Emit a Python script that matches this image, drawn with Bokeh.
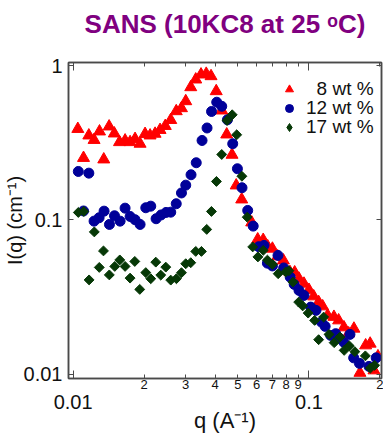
import math
from bokeh.plotting import figure
from bokeh.models import LogAxis, FixedTicker, Legend, LegendItem
from bokeh.embed import file_html
from bokeh.resources import INLINE

# ---- data ----
q8 = [0.01047, 0.01107, 0.01166, 0.01227, 0.01294, 0.01349, 0.01421, 0.01495, 0.01573, 0.01661,
      0.01744, 0.01831, 0.01923, 0.02019, 0.02120, 0.02226, 0.02337, 0.02459, 0.02594, 0.02737,
      0.02880, 0.03003, 0.03153, 0.03311, 0.03486, 0.03668, 0.03844, 0.04044, 0.04267, 0.04480,
      0.04718, 0.04915, 0.05186, 0.05718, 0.06063, 0.06397, 0.06684, 0.06998, 0.07369, 0.07790,
      0.08308, 0.08698, 0.09071, 0.09524, 0.1000, 0.1047, 0.1099, 0.1143, 0.1200, 0.1276,
      0.1336, 0.1407, 0.1473, 0.1551, 0.1645, 0.1739, 0.1817, 0.1886, 0.1961]
i8 = [0.3882, 0.2520, 0.3523, 0.3295, 0.3740, 0.2464, 0.4029, 0.3630, 0.3189, 0.3270,
      0.3189, 0.3344, 0.3114, 0.3603, 0.3523, 0.3614, 0.3825, 0.4059, 0.4438, 0.5059,
      0.5291, 0.5873, 0.7236, 0.8116, 0.8743, 0.8836, 0.8527, 0.6819, 0.5112, 0.3576,
      0.2642, 0.1672, 0.1357, 0.09634, 0.07478, 0.07423, 0.06738, 0.06511, 0.05804, 0.05467,
      0.04594, 0.04573, 0.04163, 0.03864, 0.03523, 0.03198, 0.02937, 0.02755, 0.02409, 0.02356,
      0.02236, 0.02015, 0.01842, 0.01976, 0.01023, 0.01540, 0.01580, 0.01061, 0.01308]

q12 = [0.01052, 0.01107, 0.01166, 0.01227, 0.01289, 0.01353, 0.01426, 0.01498, 0.01582, 0.01661,
       0.01744, 0.01831, 0.01923, 0.02033, 0.02134, 0.02248, 0.02360, 0.02478, 0.02594, 0.02737,
       0.02880, 0.03003, 0.03162, 0.03327, 0.03521, 0.03697, 0.03863, 0.04064, 0.04267, 0.04511,
       0.04750, 0.04973, 0.05201, 0.05499, 0.05802, 0.06122, 0.06447, 0.06664, 0.06998, 0.07390,
       0.07813, 0.08325, 0.08656, 0.09071, 0.09524, 0.1017, 0.1071, 0.1129, 0.1171, 0.1236,
       0.1298, 0.1349, 0.1407, 0.1492, 0.1547, 0.1637, 0.1796, 0.1927]
i12 = [0.2060, 0.1143, 0.2009, 0.09823, 0.1033, 0.1140, 0.09351, 0.1064, 0.09823, 0.1192,
       0.1053, 0.1003, 0.09351, 0.1199, 0.1228, 0.1018, 0.1077, 0.1118, 0.1123, 0.1273,
       0.1495, 0.1680, 0.1962, 0.2346, 0.3270, 0.3940, 0.5038, 0.5786, 0.5445, 0.4451,
       0.3114, 0.2145, 0.1616, 0.1152, 0.09120, 0.06708, 0.06839, 0.05251, 0.05037, 0.05891,
       0.04889, 0.04263, 0.03825, 0.03497, 0.03246, 0.02726, 0.02596, 0.02180, 0.02045, 0.01788,
       0.01834, 0.01710, 0.01611, 0.01815, 0.01279, 0.01178, 0.01126, 0.01279]

q17 = [0.01052, 0.01110, 0.01169, 0.01230, 0.01291, 0.01345, 0.01424, 0.01502, 0.01577, 0.01661,
       0.01744, 0.01826, 0.01917, 0.02033, 0.02134, 0.02241, 0.02353, 0.02471, 0.02594, 0.02742,
       0.02880, 0.03003, 0.03153, 0.03311, 0.03500, 0.03686, 0.03859, 0.04052, 0.04267, 0.04493,
       0.04727, 0.04939, 0.05196, 0.05472, 0.05774, 0.06074, 0.06397, 0.06664, 0.06998, 0.07404,
       0.07967, 0.08220, 0.08555, 0.09045, 0.09405, 0.09922, 0.1057, 0.1099, 0.1154, 0.1216,
       0.1279, 0.1353, 0.1410, 0.1483, 0.1565, 0.1734, 0.1821, 0.1899]
i17 = [0.1118, 0.1135, 0.04089, 0.08364, 0.04926, 0.06300, 0.04405, 0.05000, 0.05508, 0.05000,
       0.04200, 0.05386, 0.03549, 0.04560, 0.04163, 0.05330, 0.04392, 0.04948, 0.04077, 0.04163,
       0.04553, 0.05205, 0.05284, 0.06253, 0.06253, 0.08681, 0.1135, 0.1775, 0.2654, 0.4405,
       0.4797, 0.3560, 0.1918, 0.1042, 0.06688, 0.05761, 0.06348, 0.05492, 0.05151, 0.04486,
       0.04607, 0.04690, 0.03957, 0.02937, 0.02775, 0.02493, 0.02236, 0.01677, 0.02349, 0.01815,
       0.01604, 0.01743, 0.01430, 0.01529, 0.01403, 0.01317, 0.01098, 0.01144]

series_labels = ["\u20078 wt %", "12 wt %", "17 wt %"]

x_sub_ticks = [0.02, 0.03, 0.04, 0.05, 0.06, 0.07, 0.08, 0.09, 0.2]
x_sub_labels = ["2", "3", "4", "5", "6", "7", "8", "9", "2"]
x_decades = [0.01, 0.1]
x_decade_labels = ["0.01", "0.1"]
y_ticks = [0.01, 0.1, 1.0]
y_tick_labels = ["0.01", "0.1", "1"]

title_text = "SANS (10KC8 at 25 \u1d52C)"
x_title = "q (A\u207b\u00b9)"
y_title = "I(q) (cm\u207b\u00b9)"

# ---- styles ----
FONT = "Liberation Sans"
AX = "#4a4a4a"
RED = "#ff0000"
BLUE = "#000099"
GREEN = "#063806"

p = figure(width=383, height=435, x_axis_type="log", y_axis_type="log",
           x_range=(0.00956, 0.203), y_range=(0.0094, 1.046),
           x_axis_location=None, y_axis_location=None,
           toolbar_location=None, output_backend="svg",
           min_border_left=67, min_border_right=2, min_border_top=62, min_border_bottom=57)
p.grid.visible = False
p.outline_line_color = AX
p.outline_line_width = 1.5
p.title.text = ""
p.title.standoff = 0


def style_axis(ax):
    ax.axis_line_color = AX
    ax.axis_line_width = 1.5
    ax.major_tick_line_color = AX
    ax.minor_tick_line_color = AX
    ax.major_tick_out = 0
    ax.minor_tick_out = 0
    ax.major_label_text_font = FONT
    ax.axis_label_text_font = FONT
    ax.axis_label_text_font_style = "normal"
    ax.major_label_text_color = "#111111"
    ax.axis_label_text_color = "#111111"


# bottom: sub-decade numbers with ticks
xa = LogAxis(ticker=FixedTicker(ticks=x_sub_ticks, minor_ticks=x_decades),
             major_label_overrides=dict(zip(x_sub_ticks, x_sub_labels)))
style_axis(xa)
xa.major_tick_in = 4
xa.minor_tick_in = 8
xa.major_label_text_font_size = "13px"
xa.major_label_standoff = 1
p.add_layout(xa, "below")

# bottom: decade labels + axis title
xb = LogAxis(ticker=FixedTicker(ticks=x_decades, minor_ticks=[]),
             major_label_overrides=dict(zip(x_decades, x_decade_labels)),
             axis_label=x_title)
style_axis(xb)
xb.axis_line_color = None
xb.major_tick_line_color = None
xb.minor_tick_line_color = None
xb.major_tick_in = 0
xb.major_label_text_font_size = "20px"
xb.major_label_standoff = 3
xb.axis_label_text_font_size = "22px"
xb.axis_label_standoff = -4
p.add_layout(xb, "below")

# top mirror axis; it also carries the chart title
xt = LogAxis(ticker=FixedTicker(ticks=x_sub_ticks, minor_ticks=x_decades),
             major_label_overrides={t: "" for t in x_sub_ticks},
             axis_label=title_text)
style_axis(xt)
xt.major_tick_in = 4
xt.minor_tick_in = 8
xt.major_label_standoff = 0
xt.axis_label_text_font_size = "26px"
xt.axis_label_text_font_style = "bold"
xt.axis_label_text_color = "#800080"
xt.axis_label_standoff = 24
p.add_layout(xt, "above")

# left
yl = LogAxis(ticker=FixedTicker(ticks=y_ticks, minor_ticks=[]),
             major_label_overrides=dict(zip(y_ticks, y_tick_labels)),
             axis_label=y_title)
style_axis(yl)
yl.major_tick_in = 5
yl.major_label_text_font_size = "20px"
yl.major_label_standoff = 6
yl.axis_label_text_font_size = "20px"
yl.axis_label_standoff = -5
p.add_layout(yl, "left")

# right mirror
yr = LogAxis(ticker=FixedTicker(ticks=y_ticks, minor_ticks=[]),
             major_label_overrides={t: "" for t in y_ticks})
style_axis(yr)
yr.major_tick_in = 5
yr.major_label_standoff = 0
p.add_layout(yr, "right")

r8 = p.scatter(q8, i8, marker="triangle", size=12, fill_color=RED, line_color=RED)
r12 = p.scatter(q12, i12, marker="circle", size=10, fill_color=BLUE, line_color=BLUE)
r17 = p.scatter(q17, i17, marker="square", angle=math.pi / 4, size=7,
                fill_color=GREEN, line_color=GREEN)
# hidden twin used only for the legend swatch (diamond shape)
r17_key = p.scatter(q17, i17, marker="diamond", size=9, fill_color=GREEN,
                    line_color=GREEN, visible=False)

# one single-row legend per series (fixed 30 px row box) so rows sit 19 px apart
legend_rows = [(series_labels[0], r8, 274), (series_labels[1], r12, 255),
               (series_labels[2], r17_key, 236)]
for text, rend, vy in legend_rows:
    lg = Legend(items=[LegendItem(label=text, renderers=[rend])],
                location=(211, vy), orientation="vertical")
    lg.label_text_font = FONT
    lg.label_text_font_size = "19px"
    lg.label_text_color = "#111111"
    lg.glyph_width = 20
    lg.glyph_height = 30
    lg.label_height = 30
    lg.label_standoff = 7
    lg.spacing = 0
    lg.padding = 0
    lg.margin = 0
    lg.border_line_color = None
    lg.background_fill_alpha = 0
    lg.inactive_fill_alpha = 0
    p.add_layout(lg, "center")

open("out.html", "w").write(file_html(p, INLINE))
